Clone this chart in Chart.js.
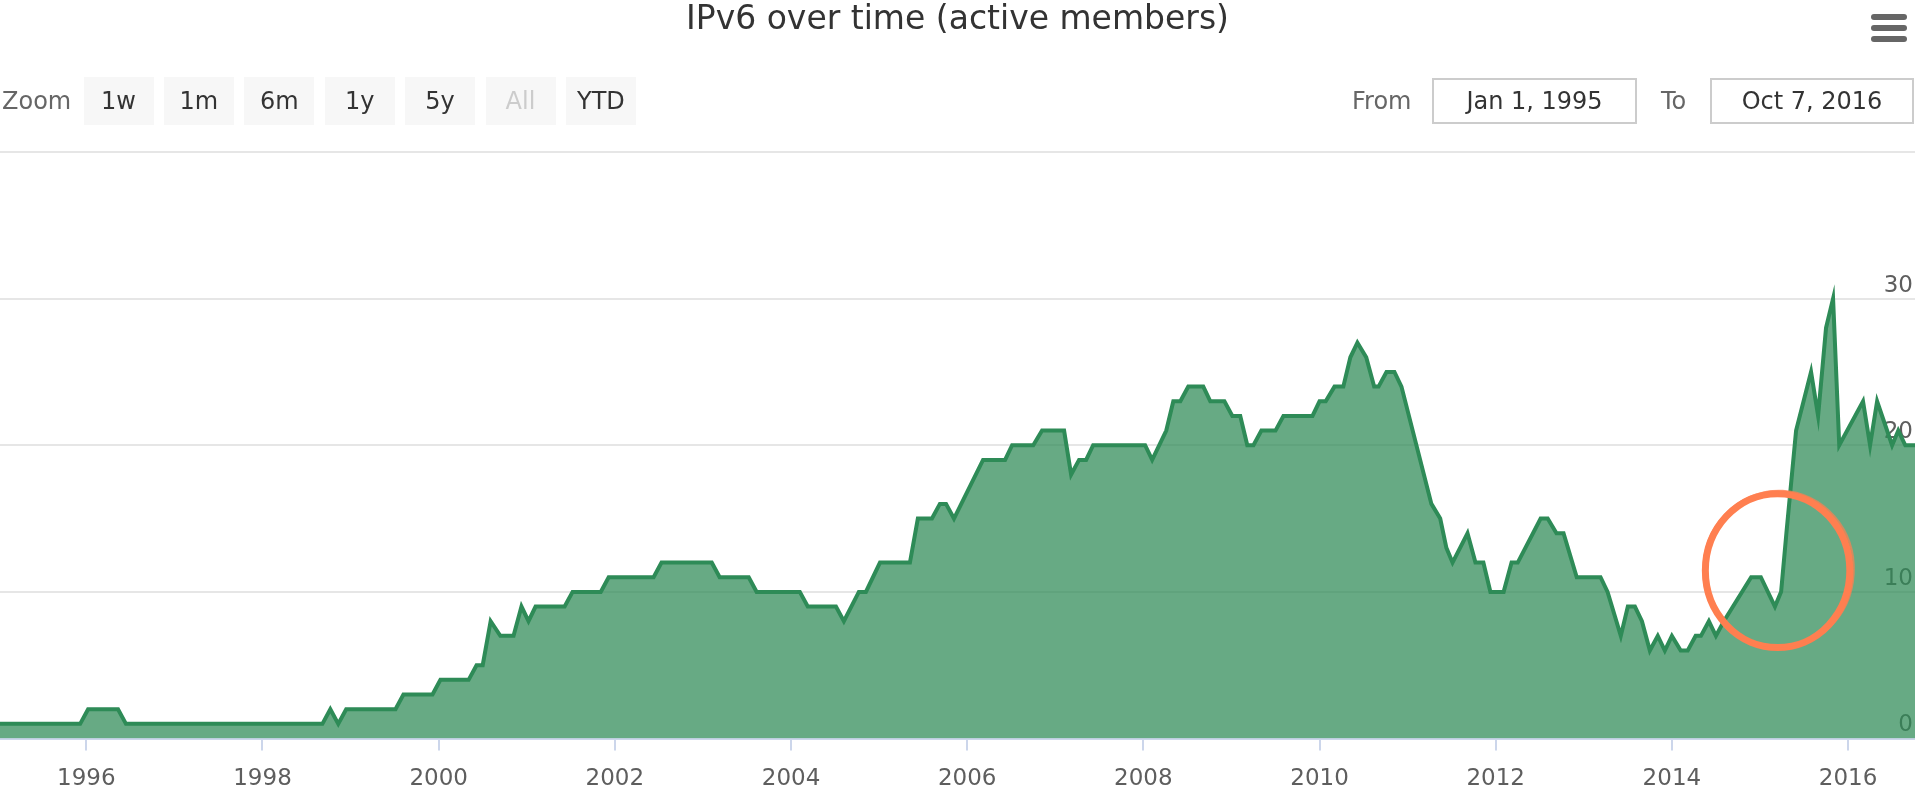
<!DOCTYPE html>
<html>
<head>
<meta charset="utf-8">
<script src="https://cdn.jsdelivr.net/npm/chart.js@4.4.0/dist/chart.umd.min.js"></script>
<style>
  body { margin: 0; background: #fff; font-family: "DejaVu Sans", sans-serif; }
  #wrap { position: relative; width: 1915px; height: 789px; overflow: hidden; }
  #chartBox { position: absolute; left: 0; top: 0; width: 1915px; height: 789px; }
  .title { position: absolute; left: 0; top: 2px; width: 1915px; text-align: center;
           font-size: 33px; line-height: 32px; color: #333; }
  .menu { position: absolute; left: 1871px; width: 36px; height: 6px; background: #666; border-radius: 3px; }
  .txt { position: absolute; top: 77px; line-height: 48px; font-size: 24px; color: #666; }
  .btn { position: absolute; top: 77px; width: 70px; height: 48px; line-height: 48px; background: #f7f7f7;
         text-align: center; font-size: 24px; color: #333; }
  .btn.off { color: #ccc; }
  .inp { position: absolute; top: 78px; height: 46px; line-height: 42px; border: 2px solid #ccc;
         box-sizing: border-box; text-align: center; font-size: 24px; color: #333; }
</style>
</head>
<body>
<div id="wrap">
  <div id="chartBox"><canvas id="ipv6Chart"></canvas></div>
  <div class="title">IPv6 over time (active members)</div>
  <div class="menu" style="top:14px"></div>
  <div class="menu" style="top:25px"></div>
  <div class="menu" style="top:36px"></div>
  <div class="txt" style="left:2px">Zoom</div>
  <div id="buttons"></div>
  <div class="txt" style="left:1352px">From</div>
  <div class="inp" style="left:1432px;width:205px">Jan 1, 1995</div>
  <div class="txt" style="left:1661px">To</div>
  <div class="inp" style="left:1710px;width:204px">Oct 7, 2016</div>
</div>
<script>
// points where the line changes direction (decimal year, members)
const years = [
  1995.0, 1995.93, 1996.02, 1996.36, 1996.45, 1998.68, 1998.77, 1998.86, 1998.95, 1999.51,
  1999.60, 1999.93, 2000.02, 2000.34, 2000.43, 2000.50, 2000.59, 2000.70, 2000.85, 2000.94,
  2001.02, 2001.10, 2001.43, 2001.52, 2001.84, 2001.93, 2002.44, 2002.53, 2003.10, 2003.19,
  2003.52, 2003.61, 2004.10, 2004.19, 2004.51, 2004.60, 2004.77, 2004.85, 2005.01, 2005.35,
  2005.44, 2005.60, 2005.69, 2005.76, 2005.85, 2006.18, 2006.43, 2006.51, 2006.75, 2006.85,
  2007.10, 2007.18, 2007.27, 2007.35, 2007.43, 2008.02, 2008.10, 2008.26, 2008.34, 2008.42,
  2008.51, 2008.68, 2008.76, 2008.92, 2009.01, 2009.10, 2009.18, 2009.25, 2009.34, 2009.50,
  2009.59, 2009.92, 2010.00, 2010.07, 2010.17, 2010.27, 2010.35, 2010.43, 2010.53, 2010.62,
  2010.67, 2010.76, 2010.85, 2010.93, 2011.27, 2011.37, 2011.44, 2011.51, 2011.68, 2011.77,
  2011.86, 2011.94, 2012.09, 2012.18, 2012.25, 2012.51, 2012.59, 2012.69, 2012.77, 2012.92,
  2013.19, 2013.27, 2013.42, 2013.50, 2013.58, 2013.66, 2013.75, 2013.84, 2013.92, 2014.00,
  2014.10, 2014.18, 2014.27, 2014.33, 2014.42, 2014.50, 2014.59, 2014.90, 2015.01, 2015.17,
  2015.24, 2015.30, 2015.41, 2015.58, 2015.66, 2015.75, 2015.83, 2015.90, 2016.17, 2016.25,
  2016.33, 2016.50, 2016.57, 2016.65, 2016.77
];
const members = [
  1, 1, 2, 2, 1, 1, 2, 1, 2, 2,
  3, 3, 4, 4, 5, 5, 8, 7, 7, 9,
  8, 9, 9, 10, 10, 11, 11, 12, 12, 11,
  11, 10, 10, 9, 9, 8, 10, 10, 12, 12,
  15, 15, 16, 16, 15, 19, 19, 20, 20, 21,
  21, 18, 19, 19, 20, 20, 19, 21, 23, 23,
  24, 24, 23, 23, 22, 22, 20, 20, 21, 21,
  22, 22, 23, 23, 24, 24, 26, 27, 26, 24,
  24, 25, 25, 24, 16, 15, 13, 12, 14, 12,
  12, 10, 10, 12, 12, 15, 15, 14, 14, 11,
  11, 10, 7, 9, 9, 8, 6, 7, 6, 7,
  6, 6, 7, 7, 8, 7, 8, 11, 11, 9,
  10, 14, 21, 25, 22, 28, 30, 20, 23, 20,
  23, 20, 21, 20, 20
];
const xTicks = [1996, 1998, 2000, 2002, 2004, 2006, 2008, 2010, 2012, 2014, 2016];
const yTicks = [0, 10, 20, 30, 40];
const zoomButtons = ['1w', '1m', '6m', '1y', '5y', 'All', 'YTD'];

// hand drawn circle note: centre (year, members) and radii
const noteCenter = [2015.2, 11.45];
const noteRadius = [0.82, 5.25];

zoomButtons.forEach((b, i) => {
  const d = document.createElement('div');
  d.className = 'btn' + (b === 'All' ? ' off' : '');
  d.style.left = (83.5 + i * 80.4) + 'px';
  d.textContent = b;
  document.getElementById('buttons').appendChild(d);
});

const circleNote = {
  id: 'circleNote',
  afterDatasetsDraw(chart) {
    const {ctx, scales: {x, y}} = chart;
    const cx = x.getPixelForValue(noteCenter[0]);
    const cy = y.getPixelForValue(noteCenter[1]);
    const rx = x.getPixelForValue(noteCenter[0] + noteRadius[0]) - cx;
    const ry = cy - y.getPixelForValue(noteCenter[1] + noteRadius[1]);
    ctx.save();
    ctx.strokeStyle = '#ff7f50';
    ctx.lineWidth = 7;
    ctx.beginPath();
    ctx.ellipse(cx, cy, rx, ry, 0, 0, Math.PI * 2);
    ctx.stroke();
    ctx.lineWidth = 2;
    ctx.globalAlpha = 0.7;
    ctx.beginPath();
    ctx.ellipse(cx + 1, cy - 1, rx + 3, ry + 2, 0.05, 0, Math.PI * 2);
    ctx.stroke();
    ctx.restore();
  }
};

new Chart(document.getElementById('ipv6Chart'), {
  type: 'line',
  data: {
    datasets: [{
      data: years.map((x, i) => ({ x: x, y: members[i] })),
      borderColor: 'rgb(46, 139, 87)',
      backgroundColor: 'rgba(46, 139, 87, 0.73)',
      borderWidth: 4,
      fill: 'origin',
      pointRadius: 0,
      tension: 0,
    }]
  },
  options: {
    responsive: true,
    maintainAspectRatio: false,
    animation: false,
    layout: { padding: { top: 152, bottom: 0, left: 0, right: 0 } },
    plugins: {
      legend: { display: false },
      tooltip: { enabled: false },
    },
    scales: {
      x: {
        type: 'linear',
        min: 1995.02,
        max: 2016.76,
        afterBuildTicks: (scale) => { scale.ticks = xTicks.map(v => ({ value: v })); },
        afterFit: (scale) => { scale.height = 50.5; },
        grid: { drawOnChartArea: false, drawTicks: true, tickLength: 12, color: '#ccd6eb', lineWidth: 2 },
        border: { display: true, color: '#ccd6eb', width: 2 },
        ticks: {
          color: '#5e5e5e',
          font: { family: 'DejaVu Sans', size: 23, lineHeight: 1 },
          padding: 17,
          maxRotation: 0,
          autoSkip: false,
          callback: (v) => String(v),
        },
      },
      y: {
        position: 'right',
        min: 0,
        max: 40,
        afterBuildTicks: (scale) => { scale.ticks = yTicks.map(v => ({ value: v })); },
        grid: { color: '#e6e6e6', lineWidth: 2, drawTicks: false },
        border: { display: false },
        ticks: {
          mirror: true,
          padding: -2,
          labelOffset: -13,
          color: '#5e5e5e',
          font: { family: 'DejaVu Sans', size: 23 },
          callback: (v) => (v === 40 ? '' : v),
        },
      },
    },
  },
  plugins: [circleNote],
});
</script>
</body>
</html>
